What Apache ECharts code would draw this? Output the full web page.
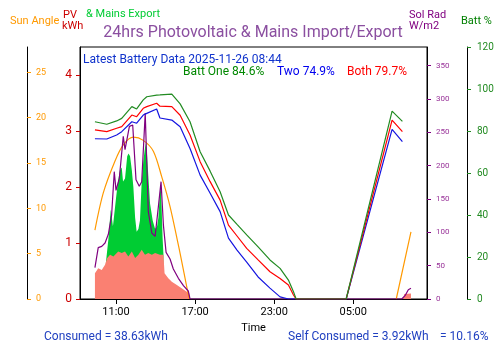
<!DOCTYPE html>
<html>
<head>
<meta charset="utf-8">
<script src="https://cdn.jsdelivr.net/npm/echarts@6/dist/echarts.min.js"></script>
<style>
  html, body { margin: 0; padding: 0; background: #fff; }
  #chart { width: 500px; height: 353px; }
</style>
</head>
<body>
<div id="chart"></div>
<script>
// x axis: first day start, next day end
const axisRange = ['08:16', '10:36'];
const tickTimes = ['11:00', '17:00', '23:00', '05:00'];

// battery state of charge, %
const battTimes = ['09:24', '10:18', '11:03', '11:26', '12:12', '12:34', '13:04', '13:20', '14:05', '14:20',
    '15:14', '15:52', '16:37', '17:23', '18:08', '18:54', '19:32', '20:11', '20:55', '21:47', '22:41',
    '23:27', '00:05', '00:28', '00:40', '04:28', '07:57', '08:44'];
const battOne = [84.4, 83.2, 84.8, 86.0, 91.6, 90.5, 94.8, 96.3, 97.1, 97.2, 97.6, 92.9, 84.4, 70.1, 61, 51.1,
    40.0, 35.5, 30.5, 24.8, 18.6, 14.6, 9.0, 3.5, 0, 0, 89.5, 84.6];
const battBoth = [80.5, 79.7, 81.3, 82.1, 87.6, 86.8, 90.8, 91.6, 93.2, 91.8, 91.6, 87.5, 78.1, 65.4, 56, 47.1,
    35.2, 30, 24.1, 18.6, 13.0, 9.8, 6.7, 1.9, 0, 0, 85.2, 79.7];
const battTwo = [76.3, 76.2, 78.1, 79.7, 84.4, 83.7, 87.6, 88.4, 90.5, 86.2, 85.2, 82, 71.7, 59.0, 50.5, 41.6,
    29, 23.3, 17.6, 10.5, 5.2, 1, 0, 0, 0, 0, 80.8, 74.9];

// sun angle, degrees (null = below horizon)
const sunTimes = ['09:24', '10:02', '10:55', '11:33', '12:19', '13:04', '13:50', '14:28', '15:06', '15:52',
    '16:33', '20:00', '08:16', '09:23'];
const sunAngle = [7.6, 11.7, 15.2, 17.0, 17.85, 17.5, 16.3, 13.5, 10.2, 5.0, 0, null, 0, 7.4];

// solar radiation, W/m2
const radTimes = ['09:24', '09:39', '09:55', '10:10', '10:25', '10:40', '10:52', '11:00', '11:15', '11:33',
    '11:41', '12:01', '12:16', '12:31', '12:46', '12:57', '13:04', '13:13', '13:27', '13:43', '13:58',
    '14:13', '14:25', '14:36', '14:48', '15:06', '15:21', '15:44', '16:07', '16:29', '16:37',
    '08:41', '08:56', '09:11', '09:23'];
const solRad = [47, 77, 79, 84, 97, 126, 191, 163, 181, 244, 224, 259, 261, 179, 169, 176, 179, 279, 131,
    99, 94, 139, 176, 110, 70, 60, 45, 31, 20, 12, 0, 0, 5, 14, 16];

// PV self consumed, kWh
const selfTimes = ['09:24', '09:39', '09:55', '10:10', '10:20', '10:33', '10:48', '11:10', '11:26', '11:41',
    '11:56', '12:12', '12:27', '12:42', '12:57', '13:12', '13:27', '13:43', '13:58', '14:20', '14:36',
    '14:41', '14:58', '15:14', '15:37', '15:59', '16:22', '16:34', '16:37', '08:48', '08:52', '09:23'];
const pvSelf = [0.46, 0.55, 0.52, 0.61, 0.73, 0.79, 0.76, 0.85, 0.82, 0.85, 0.76, 0.85, 0.73, 0.79, 0.88,
    0.79, 0.82, 0.79, 0.82, 0.79, 0.79, 0.46, 0.37, 0.31, 0.25, 0.19, 0.13, 0.1, 0, 0, 0.09, 0.1];

// PV total incl. mains export, kWh
const pvTimes = ['10:14', '10:25', '10:36', '10:46', '11:00', '11:09', '11:18', '11:26', '11:32', '11:41',
    '11:51', '11:57', '12:04', '12:12', '12:19', '12:27', '12:34', '12:42', '12:49', '12:57', '13:04',
    '13:12', '13:17', '13:21', '13:27', '13:35', '13:47', '13:58', '14:07', '14:13', '14:20', '14:24',
    '14:28', '14:32', '14:36'];
const pvTotal = [0.65, 1.06, 1.6, 1.3, 1.8, 2.1, 2.3, 2.35, 2.1, 2.15, 2.55, 2.6, 2.55, 2.3, 2.0, 1.45, 1.2,
    1.25, 1.4, 2.1, 2.45, 2.7, 2.8, 2.6, 2.2, 1.7, 1.4, 1.25, 1.3, 1.45, 1.9, 2.0, 1.6, 1.1, 0.79];

const sunTicks = [0, 5, 10, 15, 20, 25];
const pvTicks = [0, 1, 2, 3, 4];
const radTicks = [0, 50, 100, 150, 200, 250, 300, 350];
const battTicks = [0, 20, 40, 60, 80, 100, 120];

// hours since 05:00 on the first day, rolling over midnight
function hrs(list) {
    let day = 0, prev = -1;
    return list.map(s => {
        const p = s.split(':').map(Number);
        const v = p[0] + p[1] / 60;
        if (v < prev) day += 24;
        prev = v;
        return v + day - 5;
    });
}
function pair(times, vals) {
    const xs = hrs(times);
    return xs.map((x, i) => [x, vals[i] == null ? '-' : vals[i]]);
}

const xMin = hrs([axisRange[0]])[0];
const xMax = hrs([axisRange[1]])[0] + 24;
const xTicks = hrs(tickTimes);
const FONT = 'Roboto';

var dom = document.getElementById('chart');
var myChart = echarts.init(dom, null, { renderer: 'canvas' });

function txt(text, x, y, color, size, align) {
    return {
        type: 'text', x: x, y: y, silent: true,
        style: { text: text, fill: color, fontSize: size, fontFamily: FONT,
            textAlign: align || 'left', textVerticalAlign: 'middle' }
    };
}

const option = {
    animation: false,
    textStyle: { fontFamily: FONT },
    grid: { left: 80, right: 73, top: 47, bottom: 54, show: true, borderColor: '#000', borderWidth: 1 },
    graphic: [
        txt('Sun Angle', 10, 21, '#FF9900', 11),
        txt('PV', 63, 15, '#CC0000', 11),
        txt('kWh', 62, 26, '#CC0000', 11),
        txt('& Mains Export', 86, 14, '#00CC33', 11),
        txt('24hrs Photovoltaic & Mains Import/Export', 253, 33, '#8B4FA0', 16, 'center'),
        txt('Sol Rad', 409, 15, '#800080', 11),
        txt('W/m2', 409, 26, '#800080', 11),
        txt('Batt %', 461, 21, '#008000', 11),
        txt('Latest Battery Data 2025-11-26 08:44', 83, 60, '#1033CC', 12),
        txt('Batt One 84.6%', 183, 72, '#008800', 12),
        txt('Two 74.9%', 277, 72, '#0000EE', 12),
        txt('Both 79.7%', 347, 72, '#FF0000', 12),
        txt('Consumed = 38.63kWh', 44, 337, '#2040C0', 12),
        txt('Self Consumed = 3.92kWh', 288, 337, '#2040C0', 12),
        txt('= 10.16%', 440, 337, '#2040C0', 12)
    ],
    xAxis: {
        type: 'value',
        min: xMin,
        max: xMax,
        name: 'Time',
        nameLocation: 'middle',
        nameGap: 24,
        nameTextStyle: { color: '#000', fontSize: 11 },
        axisLine: { lineStyle: { color: '#000' } },
        axisTick: { customValues: xTicks, length: 5, lineStyle: { color: '#000' } },
        axisLabel: {
            customValues: xTicks, color: '#000', fontSize: 11, margin: 8,
            formatter: function (v) {
                const i = xTicks.findIndex(t => Math.abs(t - v) < 1e-6);
                return i >= 0 ? tickTimes[i] : '';
            }
        },
        splitLine: { show: false }
    },
    yAxis: [
        {
            type: 'value', position: 'left', offset: 0, min: 0, max: 4.5,
            axisLine: { show: true, lineStyle: { color: '#000' } },
            axisTick: { show: true, customValues: pvTicks, length: 4, lineStyle: { color: '#CC0000' } },
            axisLabel: { customValues: pvTicks, color: '#CC0000', fontSize: 12, margin: 8 },
            splitLine: { show: false }
        },
        {
            type: 'value', position: 'left', offset: 53, min: 0, max: 27.8,
            axisLine: { show: true, lineStyle: { color: '#000' } },
            axisTick: { show: true, inside: true, customValues: sunTicks, length: 4, lineStyle: { color: '#FF9900' } },
            axisLabel: { inside: true, customValues: sunTicks, color: '#FF9900', fontSize: 9, margin: 9 },
            splitLine: { show: false }
        },
        {
            type: 'value', position: 'right', offset: 0, min: 0, max: 378,
            axisLine: { show: true, lineStyle: { color: '#000' } },
            axisTick: { show: true, customValues: radTicks, length: 4, lineStyle: { color: '#800080' } },
            axisLabel: { customValues: radTicks, color: '#993399', fontSize: 8, margin: 9 },
            splitLine: { show: false }
        },
        {
            type: 'value', position: 'right', offset: 40, min: 0, max: 120,
            axisLine: { show: true, lineStyle: { color: '#000' } },
            axisTick: { show: true, customValues: battTicks, length: 4, lineStyle: { color: '#228B22' } },
            axisLabel: { customValues: battTicks, color: '#228B22', fontSize: 10, margin: 10 },
            splitLine: { show: false }
        }
    ],
    series: [
        {
            name: 'PV total', type: 'line', yAxisIndex: 0, data: pair(pvTimes, pvTotal),
            showSymbol: false, lineStyle: { width: 0 },
            itemStyle: { color: '#00CC33' }, areaStyle: { color: '#00CC33', opacity: 1 }
        },
        {
            name: 'PV self', type: 'line', yAxisIndex: 0, data: pair(selfTimes, pvSelf),
            showSymbol: false, lineStyle: { width: 0 },
            itemStyle: { color: '#FA8072' }, areaStyle: { color: '#FA8072', opacity: 1 }
        },
        {
            name: 'Sun Angle', type: 'line', yAxisIndex: 1, data: pair(sunTimes, sunAngle),
            showSymbol: false, smooth: 0.3, lineStyle: { width: 1.2, color: '#FF9900' }
        },
        {
            name: 'Sol Rad', type: 'line', yAxisIndex: 2, data: pair(radTimes, solRad),
            showSymbol: false, lineStyle: { width: 1.2, color: '#800080' }
        },
        {
            name: 'Two', type: 'line', yAxisIndex: 3, data: pair(battTimes, battTwo),
            showSymbol: false, lineStyle: { width: 1.2, color: '#1515E0' }
        },
        {
            name: 'Both', type: 'line', yAxisIndex: 3, data: pair(battTimes, battBoth),
            showSymbol: false, lineStyle: { width: 1.2, color: '#FF0000' }
        },
        {
            name: 'Batt One', type: 'line', yAxisIndex: 3, data: pair(battTimes, battOne),
            showSymbol: false, lineStyle: { width: 1.2, color: '#228B22' }
        }
    ]
};

myChart.setOption(option);
window.addEventListener('resize', myChart.resize);
</script>
</body>
</html>
